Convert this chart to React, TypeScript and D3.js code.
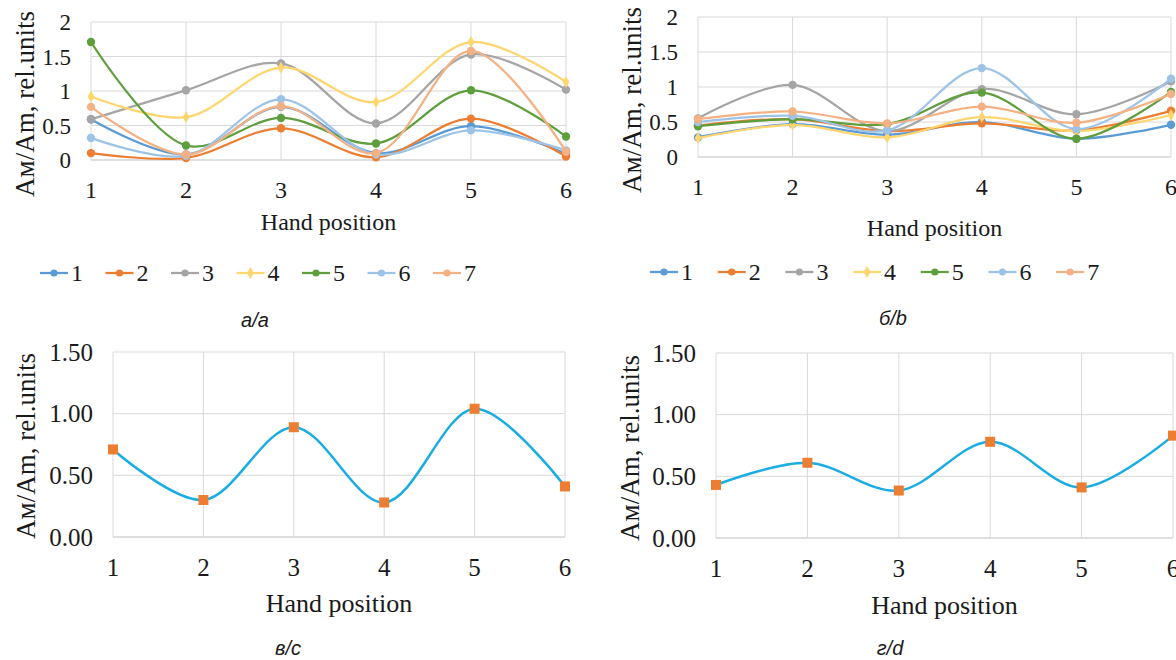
import * as d3 from "d3";
import React from "react";

// ---- data ----
const positions = [1, 2, 3, 4, 5, 6];
const seriesNames = ["1", "2", "3", "4", "5", "6", "7"];
const seriesColors = ["#5B9BD5", "#ED7D31", "#A5A5A5", "#FFD56E", "#5E9E3C", "#9DC3E6", "#F4B183"];

// panel а/a
const aS1 = [0.59, 0.08, 0.77, 0.1, 0.49, 0.09];
const aS2 = [0.1, 0.03, 0.46, 0.04, 0.6, 0.05];
const aS3 = [0.59, 1.01, 1.4, 0.53, 1.53, 1.02];
const aS4 = [0.92, 0.62, 1.34, 0.84, 1.71, 1.13];
const aS5 = [1.71, 0.21, 0.61, 0.24, 1.01, 0.34];
const aS6 = [0.32, 0.06, 0.88, 0.08, 0.43, 0.14];
const aS7 = [0.77, 0.08, 0.78, 0.1, 1.58, 0.12];

// panel б/b
const bS1 = [0.28, 0.47, 0.32, 0.5, 0.26, 0.46];
const bS2 = [0.45, 0.54, 0.37, 0.48, 0.38, 0.66];
const bS3 = [0.55, 1.03, 0.37, 0.97, 0.61, 1.08];
const bS4 = [0.27, 0.46, 0.28, 0.57, 0.37, 0.6];
const bS5 = [0.44, 0.54, 0.47, 0.92, 0.26, 0.93];
const bS6 = [0.5, 0.59, 0.38, 1.27, 0.4, 1.12];
const bS7 = [0.54, 0.65, 0.48, 0.72, 0.49, 0.9];

// panels в/c and г/d
const cValues = [0.71, 0.3, 0.89, 0.28, 1.04, 0.41];
const dValues = [0.43, 0.61, 0.385, 0.78, 0.41, 0.83];

const topTicks = [0, 0.5, 1, 1.5, 2];
const bottomTicks = [0, 0.5, 1, 1.5];

const yTitle = "Ам/Am, rel.units";
const xTitle = "Hand position";

const serif = "'Liberation Serif', 'Times New Roman', serif";
const sans = "'Liberation Sans', Arial, sans-serif";

interface Box {
  left: number;
  right: number;
  top: number;
  bottom: number;
}

const Grid = ({ box, x, y, ticks, fmt, yFont, xFont }: any) => (
  <g>
    {ticks.map((t: number) => (
      <line key={"h" + t} x1={box.left} x2={box.right} y1={y(t)} y2={y(t)}
        stroke={t === 0 ? "#BFBFBF" : "#D9D9D9"} strokeWidth={1} />
    ))}
    {positions.map((p) => (
      <line key={"v" + p} x1={x(p)} x2={x(p)} y1={box.top} y2={box.bottom} stroke="#D9D9D9" strokeWidth={1} />
    ))}
    {ticks.map((t: number) => (
      <text key={"yl" + t} x={box.left - 20} y={y(t)} dy="0.35em" textAnchor="end"
        fontFamily={serif} fontSize={yFont} fill="#1a1a1a">{fmt(t)}</text>
    ))}
    {positions.map((p) => (
      <text key={"xl" + p} x={x(p)} y={box.bottom + 30} dy="0.35em" textAnchor="middle"
        fontFamily={serif} fontSize={xFont} fill="#1a1a1a">{p}</text>
    ))}
  </g>
);

const MultiPanel = ({ box, series, titleX, titleY, xTitleY, legendX, legendStep, legendY, caption, captionX, captionY }: any) => {
  const x = d3.scaleLinear().domain([1, 6]).range([box.left, box.right]);
  const y = d3.scaleLinear().domain([0, 2]).range([box.bottom, box.top]);
  const line = d3.line<number>()
    .x((d, i) => x(positions[i]))
    .y((d) => y(d))
    .curve(d3.curveCatmullRom.alpha(0.5));
  const diamond = d3.symbol().type(d3.symbolDiamond).size(40);
  const marker = (k: number, cx: number, cy: number, key: any, r = 4.2) =>
    k === 3
      ? <path key={key} d={diamond() as string} transform={`translate(${cx},${cy})`} fill={seriesColors[k]} />
      : <circle key={key} cx={cx} cy={cy} r={r} fill={seriesColors[k]} />;
  return (
    <g>
      <Grid box={box} x={x} y={y} ticks={topTicks} fmt={(t: number) => String(t)} yFont={23} xFont={24} />
      {series.map((s: number[], k: number) => (
        <g key={k}>
          <path d={line(s) as string} fill="none" stroke={seriesColors[k]} strokeWidth={2.25} />
          {s.map((v, i) => marker(k, x(positions[i]), y(v), i))}
        </g>
      ))}
      <text transform={`translate(${titleX},${titleY}) rotate(-90)`} textAnchor="middle" dy="0.35em"
        fontFamily={serif} fontSize={27} fill="#1a1a1a">{yTitle}</text>
      <text x={(box.left + box.right) / 2} y={xTitleY} dy="0.35em" textAnchor="middle"
        fontFamily={serif} fontSize={24} fill="#1a1a1a">{xTitle}</text>
      {seriesNames.map((n, k) => {
        const lx = legendX + k * legendStep;
        return (
          <g key={n}>
            <line x1={lx} x2={lx + 28} y1={legendY} y2={legendY} stroke={seriesColors[k]} strokeWidth={2.25} />
            {marker(k, lx + 14, legendY, "m", 3.6)}
            <text x={lx + 31} y={legendY} dy="0.35em" fontFamily={serif} fontSize={24} fill="#1a1a1a">{n}</text>
          </g>
        );
      })}
      <text x={captionX} y={captionY} dy="0.35em" textAnchor="middle" fontFamily={sans}
        fontStyle="italic" fontSize={20} fill="#1a1a1a">{caption}</text>
    </g>
  );
};

const SinglePanel = ({ box, values, titleX, titleY, xTitleY, caption, captionX, captionY }: any) => {
  const x = d3.scaleLinear().domain([1, 6]).range([box.left, box.right]);
  const y = d3.scaleLinear().domain([0, 1.5]).range([box.bottom, box.top]);
  const line = d3.line<number>()
    .x((d, i) => x(positions[i]))
    .y((d) => y(d))
    .curve(d3.curveCatmullRom.alpha(0.5));
  return (
    <g>
      <Grid box={box} x={x} y={y} ticks={bottomTicks} fmt={d3.format(".2f")} yFont={25} xFont={25} />
      <path d={line(values) as string} fill="none" stroke="#1AADE3" strokeWidth={2.5} />
      {values.map((v: number, i: number) => (
        <rect key={i} x={x(positions[i]) - 5} y={y(v) - 5} width={10} height={10} fill="#ED7D31" />
      ))}
      <text transform={`translate(${titleX},${titleY}) rotate(-90)`} textAnchor="middle" dy="0.35em"
        fontFamily={serif} fontSize={27} fill="#1a1a1a">{yTitle}</text>
      <text x={(box.left + box.right) / 2} y={xTitleY} dy="0.35em" textAnchor="middle"
        fontFamily={serif} fontSize={26} fill="#1a1a1a">{xTitle}</text>
      <text x={captionX} y={captionY} dy="0.35em" textAnchor="middle" fontFamily={sans}
        fontStyle="italic" fontSize={20} fill="#1a1a1a">{caption}</text>
    </g>
  );
};

export default function App() {
  const boxA: Box = { left: 91, right: 566, top: 22, bottom: 160 };
  const boxB: Box = { left: 698, right: 1171, top: 17, bottom: 157 };
  const boxC: Box = { left: 113, right: 565, top: 352, bottom: 537 };
  const boxD: Box = { left: 716, right: 1173, top: 353, bottom: 538 };
  return (
    <svg width={1176} height={660} style={{ position: "absolute", left: 0, top: 0, background: "#fff" }}>
      <rect width={1176} height={660} fill="#fff" />
      <MultiPanel box={boxA} series={[aS1, aS2, aS3, aS4, aS5, aS6, aS7]} titleX={25} titleY={104}
        xTitleY={222} legendX={40} legendStep={65.5} legendY={273} caption="а/a" captionX={255} captionY={320} />
      <MultiPanel box={boxB} series={[bS1, bS2, bS3, bS4, bS5, bS6, bS7]} titleX={632} titleY={100}
        xTitleY={228} legendX={650} legendStep={67.7} legendY={272} caption="б/b" captionX={893} captionY={318} />
      <SinglePanel box={boxC} values={cValues} titleX={26} titleY={446} xTitleY={603} caption="в/c" captionX={288} captionY={648} />
      <SinglePanel box={boxD} values={dValues} titleX={630} titleY={448} xTitleY={605} caption="г/d" captionX={890} captionY={648} />
    </svg>
  );
}
